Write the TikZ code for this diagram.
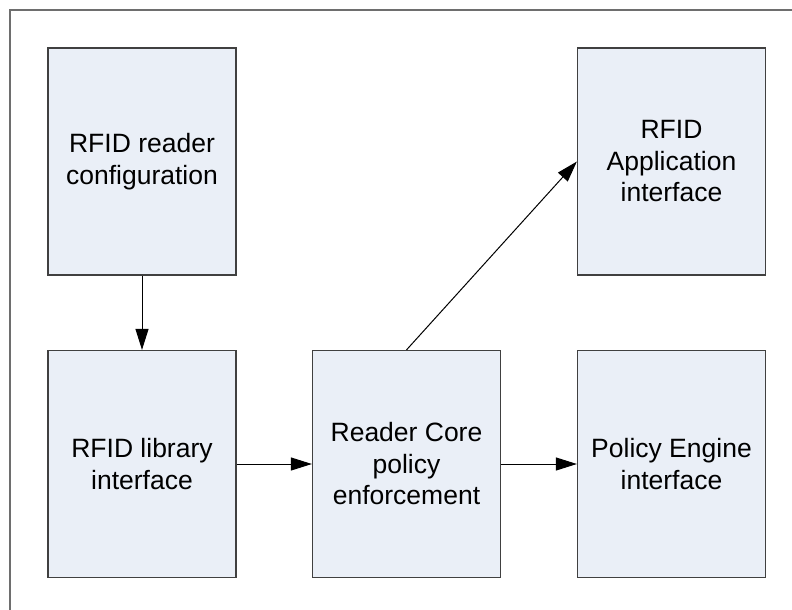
\documentclass[tikz,border=0pt]{standalone}
\usepackage{fontspec}
\setmainfont{Liberation Sans}
\usetikzlibrary{arrows.meta}

\definecolor{boxfill}{HTML}{EAEFF7}
\definecolor{boxline}{HTML}{404040}
\definecolor{frameline}{HTML}{6E6E6E}

\tikzset{
  block/.style={draw=boxline, line width=1.2pt, fill=boxfill,
    minimum width=188pt, minimum height=227pt, inner sep=0pt,
    align=center, font=\fontsize{26.5}{31.5}\selectfont},
  link/.style={line width=1pt, -{Triangle[length=21pt,width=13pt]}}
}

\begin{document}
\begin{tikzpicture}[x=1pt, y=-1pt]
    % Rahmen
    \useasboundingbox (0,0) rectangle (792,610);
    \draw[frameline, line width=1.5pt] (10,610) -- (10,10) -- (792,10);

    % Bloecke
    \node[block] (config) at (142,161.5) {RFID reader\\configuration};
    \node[block] (library) at (142,464) {RFID library\\interface};
    \node[block] (core) at (406.5,464) {Reader Core\\policy\\enforcement};
    \node[block] (app) at (671.5,161.5) {RFID\\Application\\interface};
    \node[block] (policy) at (671.5,464) {Policy Engine\\interface};

    % Pfeile
    \draw[link] (config) -- (library);
    \draw[link] (library) -- (core);
    \draw[link] (core) -- (policy);
    \draw[link] (core.north) -- (app.west);
\end{tikzpicture}
\end{document}
